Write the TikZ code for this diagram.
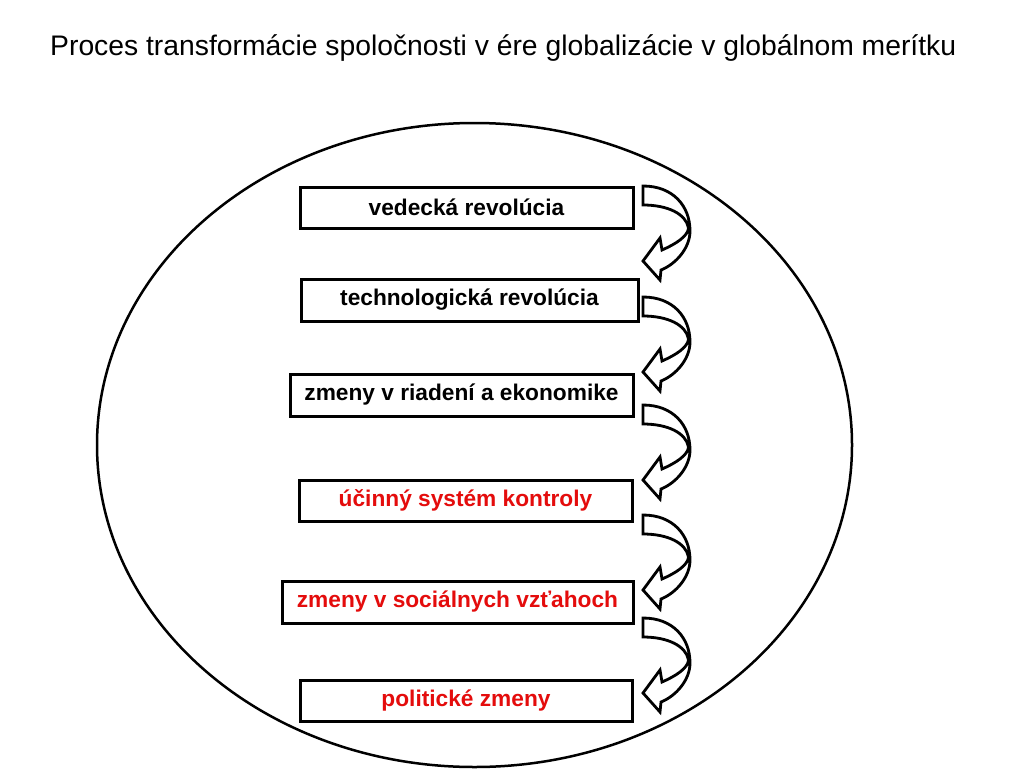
\documentclass[tikz,border=0pt]{standalone}
\usepackage{fontspec}
\setmainfont{Liberation Sans}
\definecolor{txtred}{RGB}{228,12,12}
\begin{document}
\begin{tikzpicture}[x=1pt,y=-1pt,
  box/.style={draw=black,line width=3pt,fill=white,inner sep=0pt,
    font=\fontsize{22.7}{26}\selectfont\bfseries},
  arrowline/.style={draw=black,line width=2.8pt,fill=white,line join=miter},
  curvedarrow/.pic={
    \draw[arrowline] (0,0) .. controls (30,0) and (47,20) .. (47,45)
      .. controls (47,62) and (33,78) .. (18,84) -- (17,94) -- (0,75) -- (17,52) -- (19,64)
      .. controls (33,58) and (45,50) .. (45.5,42)
      .. controls (43,28) and (25,19) .. (0,19) -- cycle;
  }]
\useasboundingbox (0,0) rectangle (1024,768);
\begin{scope}
\clip (0,0) rectangle (1024,768);
\draw[line width=2.5pt] (474.5,445) ellipse [x radius=377.5, y radius=322];
\end{scope}

\node[anchor=base west,inner sep=0pt,font=\fontsize{28.3}{32}\selectfont] (title) at (50,56)
  {Proces transformácie spoločnosti v ére globalizácie v globálnom merítku};

\node[box,minimum width=333pt,minimum height=41pt] (b1) at (466.5,207.5) {vedecká revolúcia};
\node[box,minimum width=337pt,minimum height=42pt] (b2) at (469.5,300) {technologická revolúcia};
\node[box,minimum width=343pt,minimum height=42pt] (b3) at (461.5,395) {zmeny v riadení a ekonomike};
\node[box,minimum width=333pt,minimum height=41pt,text=txtred] (b4) at (465.5,500.5) {účinný systém kontroly};
\node[box,minimum width=351pt,minimum height=42pt,text=txtred] (b5) at (457.5,602) {zmeny v sociálnych vzťahoch};
\node[box,minimum width=332pt,minimum height=41pt,text=txtred] (b6) at (466,700.5) {politické zmeny};

\pic at (643,186) {curvedarrow};
\pic at (643,297) {curvedarrow};
\pic at (643,405) {curvedarrow};
\pic at (643,515) {curvedarrow};
\pic at (643,618) {curvedarrow};
\end{tikzpicture}
\end{document}
